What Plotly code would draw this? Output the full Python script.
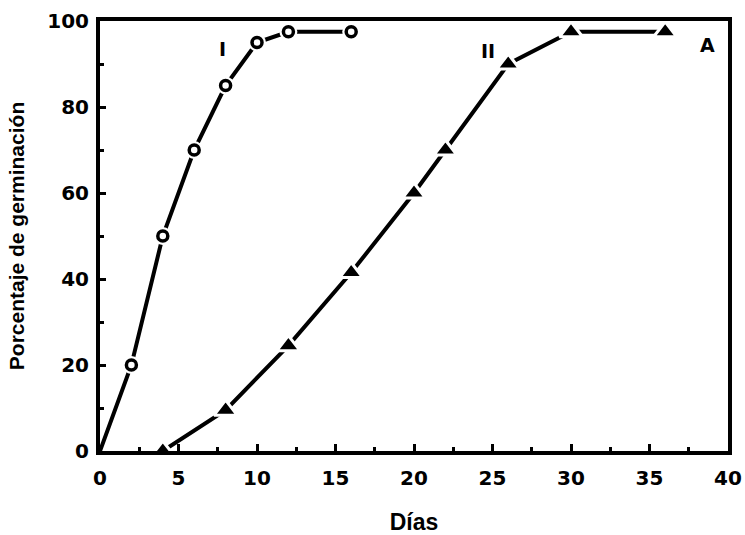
import plotly.graph_objects as go

# Data
days_I = [0, 2, 4, 6, 8, 10, 12, 16]
pct_I = [0, 20, 50, 70, 85, 95, 97.5, 97.5]

days_II = [4, 8, 12, 16, 20, 22, 26, 30, 36]
pct_II = [0, 9.5, 24.5, 41.5, 60, 70, 90, 97.5, 97.5]

x_ticks = [0, 5, 10, 15, 20, 25, 30, 35, 40]
y_ticks = [0, 20, 40, 60, 80, 100]

labels = ["I", "II", "A"]
label_x = [7.8, 24.7, 38.7]
label_y = [93.5, 93, 94.5]

fig = go.Figure()

# Series I
fig.add_trace(go.Scatter(x=days_I, y=pct_I, mode="lines",
                         line=dict(color="black", width=4), showlegend=False))
fig.add_trace(go.Scatter(x=days_I[1:], y=pct_I[1:], mode="markers",
                         marker=dict(symbol="circle", size=18, color="white",
                                     line=dict(width=0)), showlegend=False))
fig.add_trace(go.Scatter(x=days_I[1:], y=pct_I[1:], mode="markers",
                         marker=dict(symbol="circle", size=10, color="white",
                                     line=dict(color="black", width=3.5)),
                         showlegend=False))

# Series II
fig.add_trace(go.Scatter(x=days_II, y=pct_II, mode="lines",
                         line=dict(color="black", width=4), showlegend=False))
fig.add_trace(go.Scatter(x=days_II, y=pct_II, mode="markers",
                         marker=dict(symbol="triangle-up", size=20, color="black",
                                     line=dict(color="white", width=3)),
                         showlegend=False))

for t, lx, ly in zip(labels, label_x, label_y):
    fig.add_annotation(x=lx, y=ly, text=t, showarrow=False,
                       font=dict(family="DejaVu Sans", size=19, color="black", weight="bold"))

axis_common = dict(
    showline=True, linecolor="black", linewidth=4, mirror=True,
    showgrid=False, zeroline=False,
    ticks="inside", tickcolor="black", tickwidth=3,
    tickfont=dict(family="DejaVu Sans", size=20, color="black", weight="bold"),
)

fig.update_xaxes(range=[0, 40], tickvals=x_ticks, ticklen=7,
                 ticklabelstandoff=6,
                 minor=dict(ticks="inside", ticklen=4, tickwidth=3, tickcolor="black",
                            tick0=0, dtick=2.5, showgrid=False),
                 title=dict(text="Días", standoff=30,
                            font=dict(family="Liberation Sans", size=23, color="black", weight="bold")),
                 **axis_common)
fig.update_yaxes(range=[0, 100], tickvals=y_ticks, ticklen=6,
                 ticklabelstandoff=3,
                 minor=dict(ticks="inside", ticklen=4, tickwidth=3, tickcolor="black",
                            tick0=0, dtick=10, showgrid=False),
                 title=dict(text="Porcentaje de germinación", standoff=18,
                            font=dict(family="Liberation Sans", size=21, color="black", weight="bold")),
                 **axis_common)

fig.update_layout(width=745, height=535,
                  margin=dict(l=100, r=17, t=21, b=84, autoexpand=False),
                  paper_bgcolor="white", plot_bgcolor="white")

fig.write_html("out.html")
